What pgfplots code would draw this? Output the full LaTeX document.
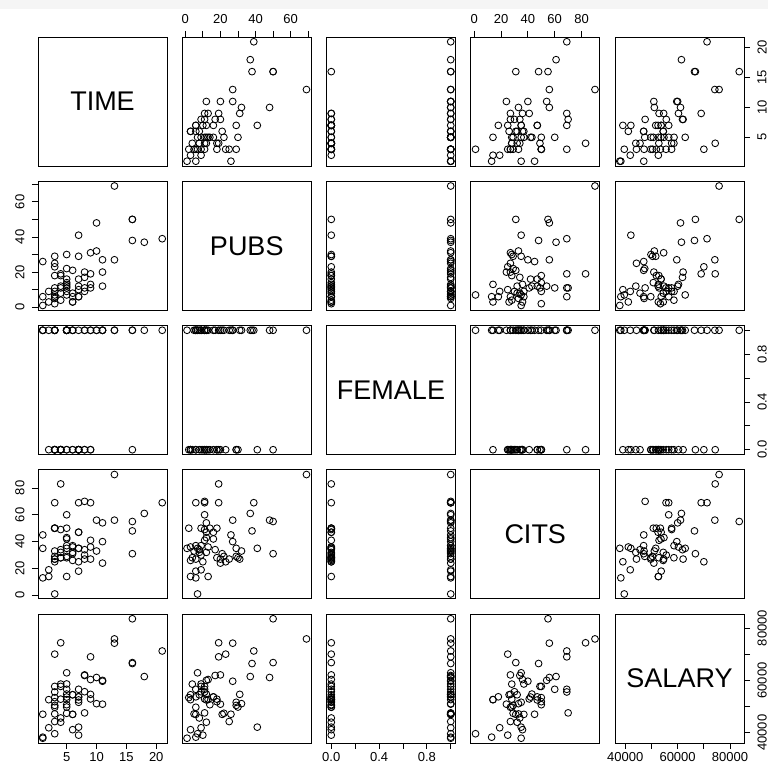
\documentclass[border=0pt]{standalone}
\usepackage{pgfplots}
\usepackage{pgfplotstable}
\pgfplotsset{compat=1.18}
\usepackage{fontspec}
\setmainfont{Liberation Sans}

\pgfplotstableread{
T P F C S
3 18 0 50 51876
6 3 0 26 54511
3 2 0 50 53425
8 17 1 34 61863
9 11 0 41 52926
6 6 1 37 47034
16 38 1 48 66432
10 48 1 56 61100
2 9 1 19 41934
5 22 1 29 47454
5 30 0 28 49832
6 21 1 31 47047
7 10 0 25 39115
11 27 1 40 59677
18 37 1 61 61458
6 8 1 32 54528
9 13 0 36 60327
7 6 0 69 56600
7 12 0 47 52542
3 29 0 29 50455
7 29 0 35 51647
5 7 1 35 62895
7 6 1 18 53740
13 69 1 90 75822
5 11 1 60 56596
8 9 0 30 55682
8 20 0 27 62091
7 41 0 35 42162
2 3 0 14 52646
13 27 1 56 74199
5 14 0 50 50729
3 23 0 25 70011
1 1 1 35 37939
3 7 1 1 39652
9 19 1 69 68987
3 11 1 69 55579
9 31 1 27 54671
3 9 1 50 57704
4 12 0 32 44045
10 32 1 33 51122
1 26 1 45 47082
11 12 1 54 60009
5 9 1 37 58632
1 6 1 13 38340
21 39 1 69 71219
7 16 0 47 53712
5 12 1 43 54782
16 50 1 55 83503
3 5 1 33 47212
4 18 0 28 52840
5 16 1 42 53650
11 20 1 24 50931
16 50 0 31 66784
3 6 0 27 49751
4 19 0 83 74343
4 11 0 49 57710
5 13 1 14 52676
6 3 0 36 41195
4 8 0 34 45662
8 11 1 70 47606
3 25 1 27 44301
4 4 0 28 58582
}\data

\pgfplotsset{
  pp/.style={scale only axis, width=129pt, height=129pt, anchor=south west,
    axis line style={line width=0.8pt}, xtick=\empty, ytick=\empty,
    scaled x ticks=false, scaled y ticks=false,
    tick style={line width=0.8pt, black}, tick align=outside,
    major tick length=6pt,
    ticklabel style={font=\fontsize{13}{13}\selectfont},
    clip=false},
  xT/.style={xmin=0.2,xmax=21.8}, yT/.style={ymin=0.2,ymax=21.8},
  xP/.style={xmin=-1.72,xmax=71.72}, yP/.style={ymin=-1.72,ymax=71.72},
  xF/.style={xmin=-0.04,xmax=1.04}, yF/.style={ymin=-0.04,ymax=1.04},
  xC/.style={xmin=-2.56,xmax=93.56}, yC/.style={ymin=-2.56,ymax=93.56},
  xS/.style={xmin=36116.4,xmax=85325.6}, yS/.style={ymin=36116.4,ymax=85325.6},
  pts/.style={only marks, mark=o, mark size=3.4pt, black, mark options={line width=0.85pt}},
  % tick setups
  botT/.style={xtick={5,10,15,20}, xticklabels={5,10,15,20}, xtick pos=left, xticklabel pos=left},
  botF/.style={xtick={0,0.2,0.4,0.6,0.8,1}, xticklabels={0.0,,0.4,,0.8,}, xtick pos=left, xticklabel pos=left},
  botS/.style={xtick={40000,50000,60000,70000,80000}, xticklabels={40000,,60000,,80000}, xtick pos=left, xticklabel pos=left},
  topP/.style={xtick={0,10,...,70}, xticklabels={0,,20,,40,,60,}, xtick pos=right, xticklabel pos=right, xticklabel shift=4pt},
  topC/.style={xtick={0,20,40,60,80}, xticklabels={0,20,40,60,80}, xtick pos=right, xticklabel pos=right, xticklabel shift=4pt},
  leftP/.style={ytick={0,10,...,70}, yticklabels={0,,20,,40,,60,}, ytick pos=left, yticklabel pos=left,
     yticklabel style={rotate=90, anchor=south}, yticklabel shift=4pt},
  leftC/.style={ytick={0,20,40,60,80}, yticklabels={0,20,40,60,80}, ytick pos=left, yticklabel pos=left,
     yticklabel style={rotate=90, anchor=south}, yticklabel shift=4pt},
  rightT/.style={ytick={5,10,15,20}, yticklabels={5,10,15,20}, ytick pos=right, yticklabel pos=right,
     yticklabel style={rotate=90, anchor=north}, yticklabel shift=4pt},
  rightF/.style={ytick={0,0.2,0.4,0.6,0.8,1}, yticklabels={0.0,,0.4,,0.8,}, ytick pos=right, yticklabel pos=right,
     yticklabel style={rotate=90, anchor=north}, yticklabel shift=4pt},
  rightS/.style={ytick={40000,50000,60000,70000,80000}, yticklabels={40000,,60000,,80000}, ytick pos=right, yticklabel pos=right,
     yticklabel style={rotate=90, anchor=north}, yticklabel shift=4pt},
}

% \pan{x}{y}{xvar}{yvar}{options}
\newcommand{\pan}[5]{%
  \begin{axis}[pp, at={(#1pt,#2pt)}, x#3, y#4, #5]
    \addplot[pts] table[x=#3, y=#4] {\data};
  \end{axis}}
\newcommand{\diag}[5]{%
  \begin{axis}[pp, at={(#1pt,#2pt)}, x#3, y#3, #5]
    \addplot[draw=none, mark=none] coordinates {(0,0)};
    \node at (rel axis cs:0.5,0.5) {\fontsize{27}{27}\selectfont #4};
  \end{axis}}

\begin{document}
\begin{tikzpicture}
\useasboundingbox (0,0) rectangle (768pt,771pt);
\fill[black!4] (0,762pt) rectangle (768pt,771pt);
% row 1 (TIME)
\diag{38}{605}{T}{TIME}{}
\pan{182.25}{605}{P}{T}{topP}
\pan{326.5}{605}{F}{T}{}
\pan{470.75}{605}{C}{T}{topC}
\pan{615}{605}{S}{T}{rightT}
% row 2 (PUBS)
\pan{38}{460.75}{T}{P}{leftP}
\diag{182.25}{460.75}{P}{PUBS}{}
\pan{326.5}{460.75}{F}{P}{}
\pan{470.75}{460.75}{C}{P}{}
\pan{615}{460.75}{S}{P}{}
% row 3 (FEMALE)
\pan{38}{316.5}{T}{F}{}
\pan{182.25}{316.5}{P}{F}{}
\diag{326.5}{316.5}{F}{FEMALE}{}
\pan{470.75}{316.5}{C}{F}{}
\pan{615}{316.5}{S}{F}{rightF}
% row 4 (CITS)
\pan{38}{172.25}{T}{C}{leftC}
\pan{182.25}{172.25}{P}{C}{}
\pan{326.5}{172.25}{F}{C}{}
\diag{470.75}{172.25}{C}{CITS}{}
\pan{615}{172.25}{S}{C}{}
% row 5 (SALARY)
\pan{38}{28}{T}{S}{botT}
\pan{182.25}{28}{P}{S}{}
\pan{326.5}{28}{F}{S}{botF}
\pan{470.75}{28}{C}{S}{}
\diag{615}{28}{S}{SALARY}{botS, rightS}
\end{tikzpicture}
\end{document}
